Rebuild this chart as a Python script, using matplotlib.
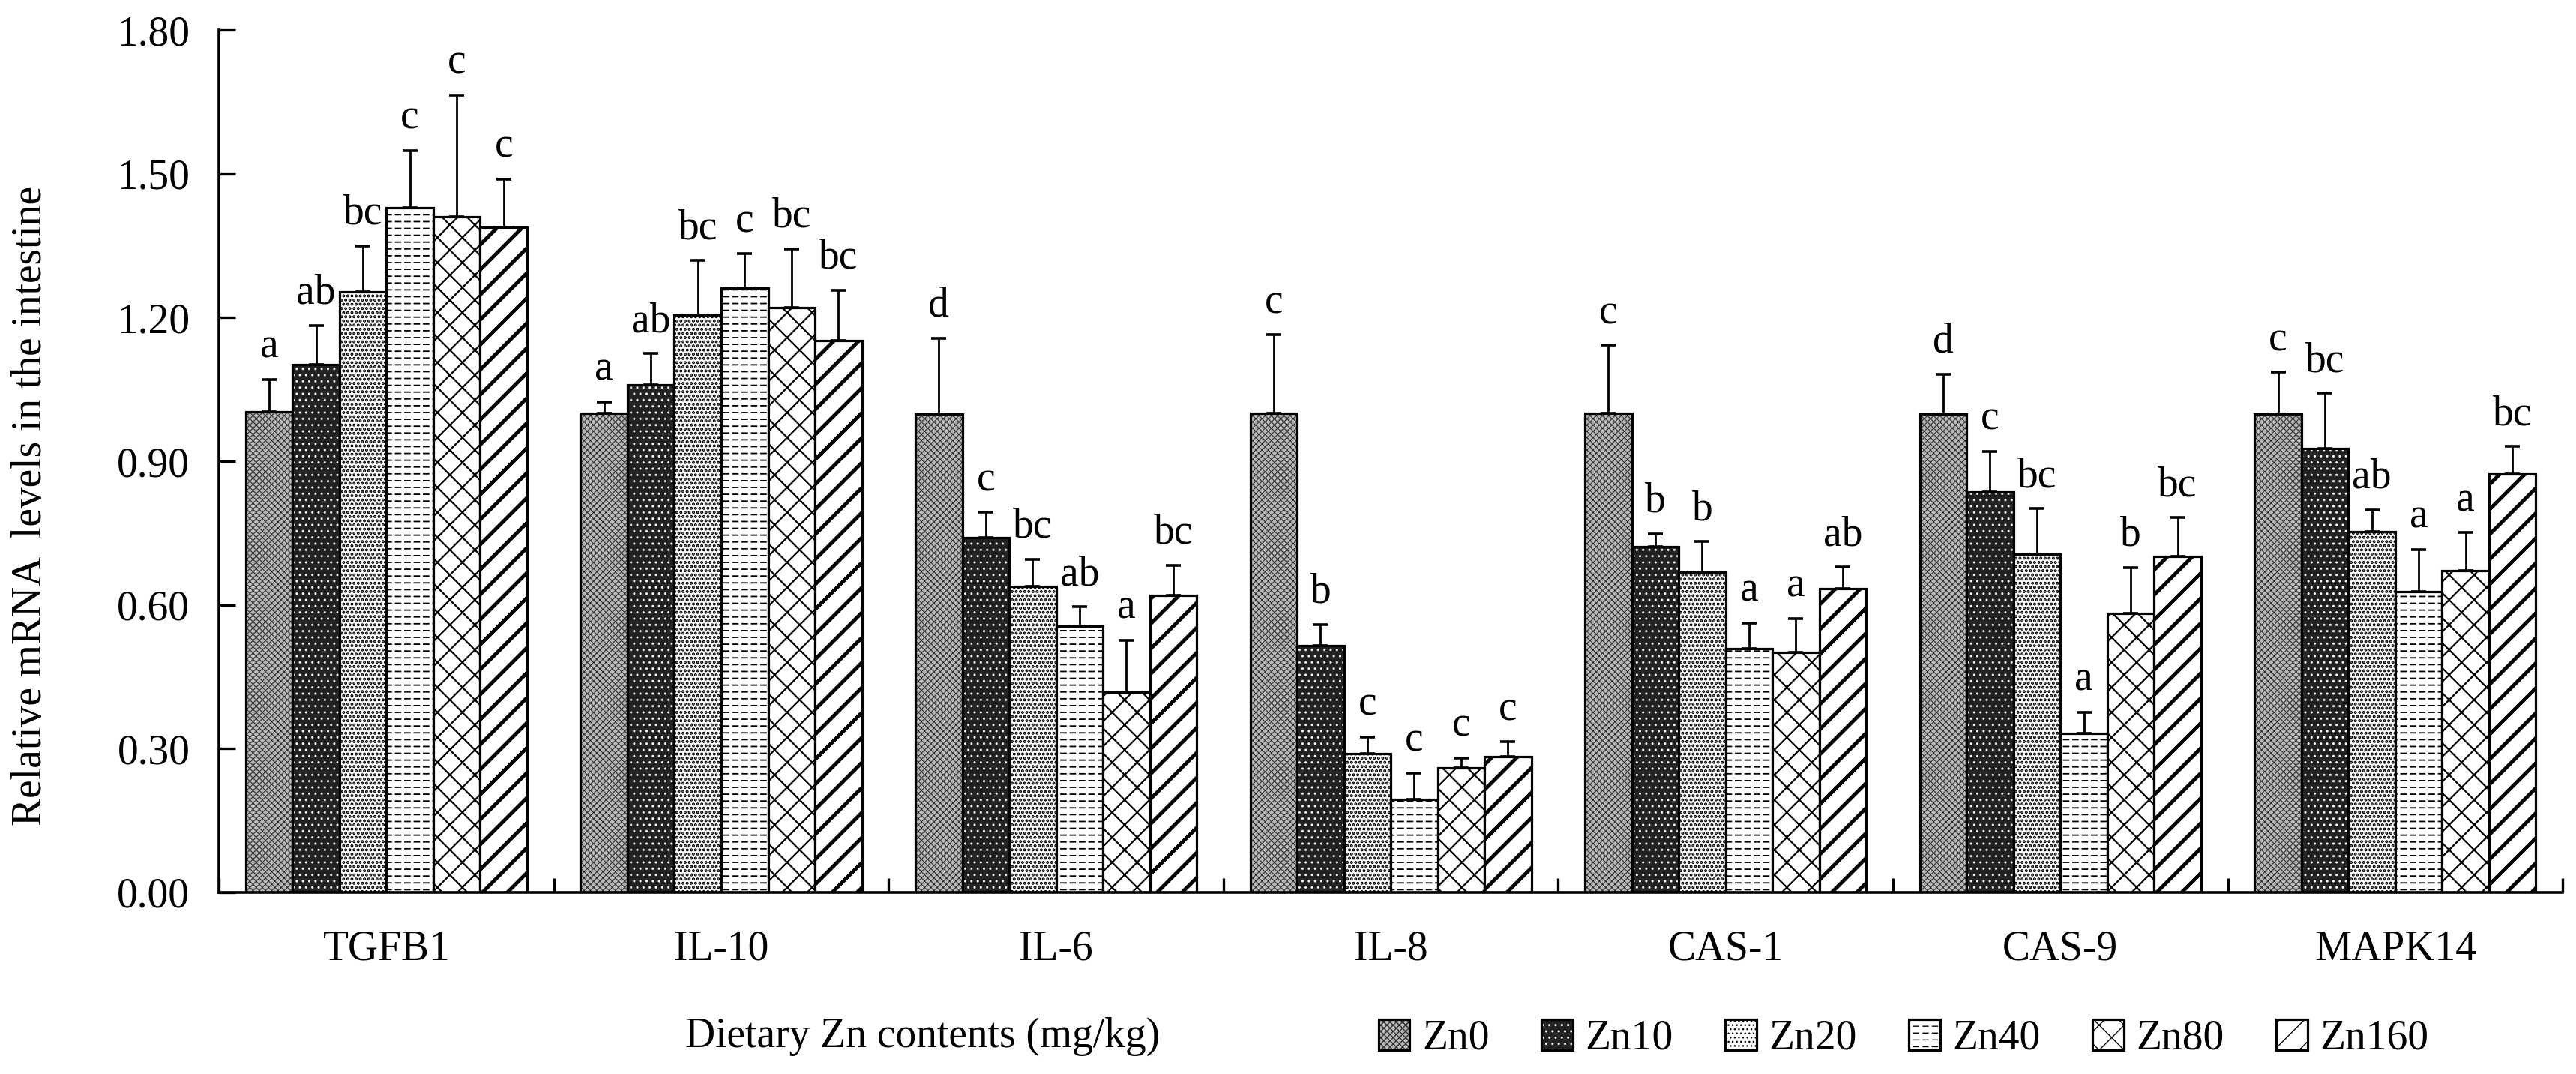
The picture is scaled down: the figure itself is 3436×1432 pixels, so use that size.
import numpy as np
import matplotlib
matplotlib.use('Agg')
import matplotlib.pyplot as plt
import matplotlib.hatch as mhatch
from matplotlib.path import Path
from matplotlib.legend_handler import HandlerTuple

# data (mean and upper SE bar)
genes = ['TGFB1', 'IL-10', 'IL-6', 'IL-8', 'CAS-1', 'CAS-9', 'MAPK14']
groups = ['Zn0', 'Zn10', 'Zn20', 'Zn40', 'Zn80', 'Zn160']

zn0_mean = [1.004, 1.001, 0.999, 1.000, 1.000, 0.999, 0.999]
zn0_err = [0.067, 0.023, 0.158, 0.164, 0.142, 0.083, 0.087]
zn0_sig = ['a', 'a', 'd', 'c', 'c', 'd', 'c']

zn10_mean = [1.102, 1.060, 0.740, 0.515, 0.722, 0.836, 0.926]
zn10_err = [0.082, 0.065, 0.053, 0.044, 0.026, 0.085, 0.116]
zn10_sig = ['ab', 'ab', 'c', 'b', 'b', 'c', 'bc']

zn20_mean = [1.254, 1.206, 0.639, 0.290, 0.668, 0.706, 0.753]
zn20_err = [0.096, 0.113, 0.056, 0.034, 0.064, 0.095, 0.046]
zn20_sig = ['bc', 'bc', 'bc', 'c', 'b', 'bc', 'ab']

zn40_mean = [1.429, 1.262, 0.556, 0.194, 0.509, 0.332, 0.627]
zn40_err = [0.119, 0.071, 0.040, 0.055, 0.053, 0.044, 0.089]
zn40_sig = ['c', 'c', 'ab', 'c', 'a', 'a', 'a']

zn80_mean = [1.410, 1.221, 0.418, 0.260, 0.501, 0.582, 0.671]
zn80_err = [0.254, 0.122, 0.108, 0.020, 0.071, 0.096, 0.080]
zn80_sig = ['c', 'bc', 'a', 'c', 'a', 'b', 'a']

zn160_mean = [1.389, 1.152, 0.620, 0.284, 0.634, 0.701, 0.873]
zn160_err = [0.100, 0.105, 0.063, 0.030, 0.045, 0.081, 0.058]
zn160_sig = ['c', 'bc', 'bc', 'c', 'ab', 'bc', 'bc']

means = [zn0_mean, zn10_mean, zn20_mean, zn40_mean, zn80_mean, zn160_mean]
errs = [zn0_err, zn10_err, zn20_err, zn40_err, zn80_err, zn160_err]
sigs = [zn0_sig, zn10_sig, zn20_sig, zn40_sig, zn80_sig, zn160_sig]

# fill colour, hatch colour, hatch, hatch line width
styles = [
    ('#b8b8b8', '#303030', 'xxxx', 0.8),
    ('#222222', 'white', '..', 1.0),
    ('white', 'black', '...', 2.0),
    ('white', 'black', '--', 1.3),
    ('white', 'black', 'x', 1.6),
    ('white', 'black', '/', 3.6),
]


# short dashes instead of solid lines for the '-' hatch
class DashedHorizontal(mhatch.HatchPatternBase):
    def __init__(self, hatch, density):
        self.num_rows = int(hatch.count('-') * 5.5)
        self.num_dashes = 8
        self.num_vertices = self.num_rows * self.num_dashes * 2

    def set_vertices_and_codes(self, vertices, codes):
        ys = (np.arange(self.num_rows) + 0.5) / self.num_rows
        xs = np.arange(self.num_dashes) / self.num_dashes
        yy, xx = np.meshgrid(ys, xs, indexing='ij')
        yy = yy.ravel()
        xx = xx.ravel()
        vertices[0::2, 0] = xx + 0.2 / self.num_dashes
        vertices[0::2, 1] = yy
        vertices[1::2, 0] = xx + 0.75 / self.num_dashes
        vertices[1::2, 1] = yy
        codes[0::2] = Path.MOVETO
        codes[1::2] = Path.LINETO


mhatch._hatch_types = [DashedHorizontal if t is mhatch.HorizontalHatch else t
                       for t in mhatch._hatch_types]

plt.rcParams['font.family'] = ['Liberation Serif', 'DejaVu Serif']
plt.rcParams['font.size'] = 40

fig = plt.figure(figsize=(34.37, 14.32), dpi=100)
ax = fig.add_axes([0.085, 0.169, 0.9095, 0.803])

x = np.arange(len(genes))
width = 0.14
handles = []
for i in range(len(groups)):
    face, hcol, hatch, hlw = styles[i]
    pos = x + (i - 2.5) * width
    with plt.rc_context({'hatch.linewidth': hlw}):
        hb = ax.bar(pos, means[i], width, color=face, edgecolor=hcol,
                    hatch=hatch, linewidth=0)
    for p in hb:
        if hasattr(p, 'set_hatch_linewidth'):
            p.set_hatch_linewidth(hlw)
    ob = ax.bar(pos, means[i], width, fill=False, edgecolor='black', linewidth=2.3)
    ax.errorbar(pos, means[i], yerr=[np.zeros(len(genes)), errs[i]], fmt='none',
                ecolor='black', elinewidth=2.0, capsize=7, capthick=2.6)
    for xi, m, e, s in zip(pos, means[i], errs[i], sigs[i]):
        ax.annotate(s, (xi, m + e), xytext=(0, 21), textcoords='offset points',
                    ha='center', va='baseline')
    handles.append((hb, ob))

ax.set_xlim(-0.5, 6.5)
ax.set_ylim(0, 1.8)
ax.set_yticks(np.arange(0, 1.81, 0.3))
ax.set_yticklabels(['%.2f' % v for v in np.arange(0, 1.81, 0.3)])
ax.tick_params(axis='y', direction='in', length=16, width=2.4, pad=28)
ax.set_xticks(x)
ax.set_xticklabels(genes)
ax.tick_params(axis='x', which='major', length=0, pad=36)
ax.set_xticks(np.arange(-0.5, 7, 1), minor=True)
ax.tick_params(axis='x', which='minor', direction='in', length=14, width=2.4)
for side in ['top', 'right']:
    ax.spines[side].set_visible(False)
for side in ['left', 'bottom']:
    ax.spines[side].set_linewidth(2.6)

fig.text(0.012, 0.529, 'Relative mRNA  levels in the intestine', rotation=90,
         ha='center', va='center')
fig.text(0.358, 0.035, 'Dietary Zn contents (mg/kg)', ha='center', va='center')

fig.legend(handles, groups, loc='center left', bbox_to_anchor=(0.535, 0.033),
           ncol=6, frameon=False, handlelength=0.75, handleheight=0.75,
           handletextpad=0.3, columnspacing=1.25, borderpad=0, borderaxespad=0,
           handler_map={tuple: HandlerTuple(ndivide=1, pad=0)})

fig.savefig('out.png', dpi=100)
